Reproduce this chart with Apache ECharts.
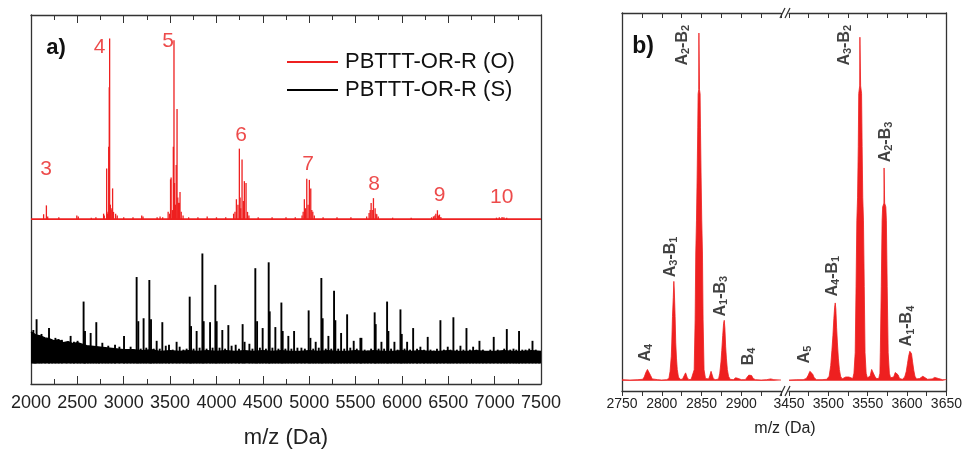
<!DOCTYPE html>
<html>
<head>
<meta charset="utf-8">
<script src="https://cdn.jsdelivr.net/npm/echarts@6/dist/echarts.min.js"></script>
<style>
  html, body { margin: 0; padding: 0; background: #fff; }
  #chart { width: 965px; height: 454px; }
</style>
</head>
<body>
<div id="chart"></div>
<script>
// ---- panel a: full spectra (m/z, intensity a.u.) ----
const redPeaks = [
  [2136, 2.7], [2166, 7.6], [2180, 1.5], [2300, 1], [2494, 2], [2510, 1.5], [2650, 0.8], [2700, 1],
  [2783, 3], [2790, 2], [2816, 28], [2825, 3], [2831, 4], [2838, 40], [2844, 73], [2848, 100],
  [2856, 8], [2864, 5], [2872, 6], [2880, 17], [2890, 4], [2913, 3], [2930, 2],
  [3000, 1], [3100, 1], [3194, 2], [3208, 1.5], [3360, 1], [3392, 1.5], [3420, 1],
  [3479, 4], [3495, 3], [3505, 22], [3511, 23], [3525, 5], [3535, 40], [3542, 99], [3548, 20],
  [3557, 8], [3566, 30], [3575, 61], [3583, 12], [3590, 9], [3600, 9], [3607, 15], [3620, 4], [3640, 2],
  [3700, 1], [3800, 1], [3900, 1.5], [4000, 1], [4100, 1],
  [4185, 3], [4200, 4], [4215, 11], [4232, 8], [4247, 39], [4255, 12], [4262, 6], [4276, 33],
  [4290, 10], [4301, 21], [4319, 20], [4335, 4], [4350, 2],
  [4450, 1], [4600, 1], [4750, 1], [4850, 1],
  [4923, 2], [4935, 4], [4948, 11], [4960, 6], [4974, 22.4], [4988, 8], [5002, 21.7], [5017, 17],
  [5028, 5], [5039, 4], [5055, 2],
  [5150, 1], [5300, 1], [5450, 1],
  [5620, 1.5], [5646, 3.4], [5658, 5], [5668, 8.9], [5680, 5], [5693, 11.6], [5711, 6], [5720, 3],
  [5729, 2.7], [5745, 1.5], [5900, 0.8], [6100, 0.8],
  [6320, 1], [6340, 1.5], [6355, 2], [6366, 3], [6383, 4.9], [6395, 2], [6405, 2.5], [6420, 1.2],
  [7020, 0.8], [7050, 1], [7080, 1.1], [7100, 1], [7130, 0.8]
];

const blackPeaks = [
  [2022, 34], [2040, 26], [2057, 45], [2085, 27], [2110, 30], [2150, 24], [2191, 36], [2225, 21],
  [2260, 26], [2295, 20], [2330, 24], [2380, 19], [2424, 28], [2460, 22], [2499, 23], [2530, 18],
  [2564, 63], [2579, 33], [2610, 17], [2640, 31], [2670, 17], [2701, 42], [2730, 16], [2766, 21],
  [2800, 15], [2830, 18], [2865, 15], [2903, 19], [2950, 17], [3000, 28], [3035, 14], [3071, 17],
  [3105, 14], [3136, 88], [3154, 43], [3180, 15], [3211, 46], [3240, 16], [3273, 85], [3291, 45],
  [3320, 15], [3352, 23], [3385, 15], [3413, 42], [3450, 18], [3485, 19], [3525, 14], [3567, 22],
  [3600, 17], [3640, 14], [3675, 15], [3708, 68], [3723, 38], [3750, 15], [3783, 33], [3815, 16],
  [3845, 112], [3859, 43], [3890, 15], [3928, 42], [3955, 16], [3985, 80], [3999, 43], [4030, 16],
  [4060, 34], [4090, 15], [4125, 39], [4160, 18], [4204, 19], [4240, 15], [4279, 40], [4300, 22],
  [4352, 20], [4385, 15], [4416, 97], [4435, 43], [4465, 16], [4495, 36], [4530, 15], [4560, 103],
  [4571, 53], [4600, 16], [4632, 37], [4665, 15], [4697, 62], [4711, 33], [4740, 15], [4772, 28],
  [4805, 15], [4834, 33], [4870, 16], [4913, 16], [4950, 15], [4991, 54], [5010, 26], [5040, 15],
  [5067, 22], [5100, 16], [5128, 87], [5142, 46], [5175, 15], [5204, 28], [5235, 15], [5265, 74],
  [5279, 44], [5310, 15], [5341, 31], [5375, 15], [5406, 50], [5440, 16], [5477, 23], [5510, 15],
  [5549, 26], [5560, 26], [5595, 14], [5628, 13], [5665, 15], [5703, 52], [5714, 40], [5745, 15],
  [5776, 22], [5805, 15], [5837, 63], [5851, 33], [5880, 15], [5916, 22], [5950, 14], [5981, 55],
  [5995, 30], [6025, 15], [6053, 22], [6085, 14], [6118, 36], [6160, 15], [6196, 17], [6235, 14],
  [6275, 27], [6305, 14], [6340, 13], [6375, 15], [6412, 44], [6450, 14], [6491, 17], [6520, 14],
  [6552, 47], [6590, 14], [6628, 18], [6660, 14], [6693, 36], [6730, 14], [6765, 17], [6800, 14],
  [6833, 23], [6870, 14], [6908, 12], [6950, 14], [6987, 27], [7030, 14], [7067, 12], [7100, 15],
  [7128, 35], [7165, 14], [7200, 15], [7230, 14], [7260, 33], [7295, 14], [7330, 14], [7370, 15],
  [7405, 23], [7440, 14], [7476, 12]
];

// noise floor of the (S) spectrum, upper edge
const noiseMz = [2000, 2050, 2100, 2150, 2200, 2250, 2300, 2350, 2400, 2450, 2500, 2600, 2700, 2800,
  2900, 3000, 3100, 3200, 3300, 3400, 3500, 3600, 3700, 3800, 3900, 4000, 4100, 4200, 4300, 4400,
  4500, 4600, 4700, 4800, 4900, 5000, 5100, 5200, 5300, 5400, 5500, 5600, 5700, 5800, 5900, 6000,
  6100, 6200, 6300, 6400, 6500, 6600, 6700, 6800, 6900, 7000, 7100, 7200, 7300, 7400, 7500];
const noiseTop = [32, 29, 28, 26, 25, 23, 24, 21, 22, 20, 21, 18, 17, 16,
  15, 14, 14, 13, 14, 12, 13, 12, 13, 12, 13, 12, 13, 12, 13, 12,
  13, 12, 13, 12, 12, 13, 12, 13, 12, 12, 13, 12, 13, 12, 12, 13,
  12, 13, 12, 12, 13, 12, 12, 13, 12, 12, 13, 12, 12, 13, 12];

// repeat-unit numbers above the (O) clusters
const clusterNames = ['3', '4', '5', '6', '7', '8', '9', '10'];
const clusterAt = [[2162, 27.4], [2739, 95], [3478, 98.4], [4265, 46.2], [4988, 30.2], [5700, 19.3], [6407, 13.2], [7076, 12.2]];

// ---- panel b: zoomed (O) spectrum ----
const zoomLeft = [
  [2750, 0.3], [2760, 0.2], [2770, 0.3], [2776, 0.4], [2778, 1.0], [2780, 2.2], [2782, 3.0], [2784, 2.6],
  [2786, 1.4], [2788, 0.5], [2795, 0.3], [2800, 0.2], [2806, 0.3], [2809, 0.6], [2810.5, 2.5], [2812, 6.5],
  [2812.6, 10], [2813.5, 17], [2814.5, 22], [2815.2, 26.3], [2815.8, 24], [2816.8, 17], [2817.6, 10],
  [2818.5, 6], [2819.5, 3], [2821, 1], [2823, 0.4], [2826, 0.4], [2828, 0.8], [2830, 2.1], [2832, 0.9],
  [2834, 0.3], [2837, 0.4], [2839, 0.6], [2840.8, 2.9], [2842, 16.1], [2842.8, 33.8], [2843.7, 42.5],
  [2844.5, 53.9], [2845.3, 67.1], [2845.75, 75.9], [2846.5, 77], [2846.75, 92], [2847.25, 92], [2847.5, 77],
  [2848.25, 75.9], [2848.7, 67.1], [2849.5, 53.9], [2850.3, 42.5], [2851.2, 33.8], [2852, 16.1],
  [2853.2, 2.9], [2855, 0.6], [2857, 0.4], [2859, 0.5], [2860.5, 1.4], [2862, 2.5], [2863.5, 1.5],
  [2865, 0.5], [2868, 0.3], [2871.5, 0.5], [2873, 2], [2874.5, 5], [2875.5, 8], [2876.7, 12], [2877.8, 15.2],
  [2878.6, 16], [2879.4, 14], [2880.4, 9], [2881.3, 6], [2882.5, 3], [2884, 1.2], [2886, 0.4], [2890, 0.3],
  [2893, 0.8], [2894.6, 1.0], [2896.5, 0.6], [2900, 0.3], [2905, 0.3], [2907.5, 0.8], [2909.5, 1.5],
  [2911, 1.8], [2913, 1.4], [2915, 0.6], [2918, 0.3], [2925, 0.2], [2932, 0.3], [2937, 0.5], [2941, 0.3],
  [2950, 0.2]
];
const zoomRight = [
  [3450, 0.2], [3460, 0.3], [3468, 0.3], [3472, 0.6], [3474.5, 1.5], [3476.5, 2.5], [3478, 2.7], [3480, 1.8],
  [3482, 0.8], [3485, 0.3], [3492, 0.3], [3498, 0.4], [3501, 1.2], [3503, 4], [3504.5, 8], [3505.8, 12],
  [3507, 16.5], [3508, 19.5], [3508.75, 20.6], [3509.5, 19], [3510.5, 14], [3511.5, 10], [3512.7, 6],
  [3514, 3], [3515.5, 1.2], [3517.5, 0.5], [3520, 0.5], [3522, 1], [3524, 1.4], [3526, 1], [3528, 0.5],
  [3531, 0.6], [3532.5, 2], [3534.1, 7.4], [3535.2, 25], [3536.2, 42.5], [3537.1, 48.4], [3538, 62],
  [3538.6, 76], [3539.8, 78], [3540.1, 90.9], [3540.6, 90.9], [3541, 78], [3542.2, 76], [3542.9, 62],
  [3543.7, 48.4], [3544.6, 42.5], [3545.6, 25], [3546.6, 7.4], [3548, 2], [3549.5, 0.8], [3551, 0.8],
  [3553, 1.2], [3555, 3], [3556, 3.4], [3557.5, 2.5], [3559, 1.2], [3561, 0.6], [3564, 0.6], [3565.5, 2],
  [3566, 7.4], [3567.25, 25], [3568.3, 42.5], [3569, 46], [3570.6, 47], [3570.8, 56.3], [3571.3, 56.3],
  [3571.5, 47], [3573, 46], [3573.7, 42.5], [3574.75, 25], [3576, 7.4], [3577.5, 2], [3579, 0.8],
  [3581, 0.6], [3583, 1], [3585, 2.2], [3586.6, 2.5], [3588.5, 1.6], [3590.5, 0.6], [3594, 0.4], [3597, 1],
  [3599, 2.5], [3600.5, 4.5], [3602, 6.5], [3603.5, 7.8], [3604.6, 8.1], [3605.6, 7.2], [3607, 5],
  [3608.5, 2.8], [3610, 1.2], [3612, 0.5], [3616, 0.6], [3618.5, 1], [3620, 1.2], [3622, 0.8], [3626, 0.4],
  [3632, 0.5], [3635, 0.9], [3637, 1.0], [3640, 0.6], [3645, 0.3], [3650, 0.3]
];

// fragment assignments [m/z, intensity, name]
const fragLeft = [[2779.6, 4.7, 'A4'], [2811, 27, 'A3-B1'], [2826, 83, 'A2-B2'], [2873.4, 16.6, 'A1-B3'], [2908.75, 3.7, 'B4']];
const fragRight = [[3470, 4.2, 'A5'], [3505, 21.9, 'A4-B1'], [3520, 83, 'A3-B2'], [3572.5, 57.4, 'A2-B3'], [3600, 8.7, 'A1-B4']];

const RED = '#ee2020';
const FRAME = '#333';
const FONT = 'Liberation Sans, Arial, sans-serif';
const HIDDEN = 'rgba(0,0,0,0)';

function frameAxis(grid, pos, min, max, interval, opts) {
  return Object.assign({
    type: 'value', gridIndex: grid, position: pos, min: min, max: max, interval: interval,
    axisLine: { show: true, onZero: false, lineStyle: { color: FRAME, width: 1.3 } },
    axisTick: { show: true, inside: true, length: 8, lineStyle: { color: FRAME } },
    minorTick: { show: true, splitNumber: 2, length: 5, lineStyle: { color: FRAME } },
    axisLabel: { show: false },
    splitLine: { show: false }
  }, opts || {});
}

function hiddenY(grid, pos, min, max) {
  return {
    type: 'value', gridIndex: grid, position: pos, min: min, max: max,
    axisLine: { show: true, lineStyle: { color: FRAME, width: 1.3 } },
    axisTick: { show: false }, axisLabel: { show: false }, splitLine: { show: false }
  };
}

const plain = v => String(v);

const fragLabel = {
  show: true, position: 'top', distance: 1, rotate: 90, align: 'left', verticalAlign: 'middle',
  color: '#111', fontSize: 16, fontWeight: 'bold', fontFamily: FONT, lineHeight: 18,
  formatter: p => p.name.replace(/(\d)/g, '{s|$1}'),
  rich: { s: { fontSize: 11, fontWeight: 'bold', fontFamily: FONT, color: '#111', verticalAlign: 'bottom', lineHeight: 16 } }
};

const chart = echarts.init(document.getElementById('chart'));

chart.setOption({
  animation: false,
  textStyle: { fontFamily: FONT },
  grid: [
    { left: 31, top: 15, width: 510, height: 376 },
    { left: 622, top: 13, width: 159, height: 378 },
    { left: 789, top: 13, width: 160, height: 378 }
  ],
  legend: {
    orient: 'vertical', left: 282, top: 46, itemWidth: 51, itemHeight: 2, itemGap: 6,
    textStyle: { fontSize: 22, color: '#111', padding: [0, 0, 0, 2] },
    data: [{ name: 'PBTTT-OR-R (O)', icon: 'rect' }, { name: 'PBTTT-OR-R (S)', icon: 'rect' }]
  },
  xAxis: [
    frameAxis(0, 'bottom', 2000, 7500, 500, {
      axisLabel: { show: true, fontSize: 18, color: '#222', margin: 10, formatter: plain },
      name: 'm/z (Da)', nameLocation: 'middle', nameGap: 43,
      nameTextStyle: { fontSize: 22, color: '#222' }
    }),
    frameAxis(0, 'top', 2000, 7500, 500),
    frameAxis(1, 'bottom', 2750, 2950, 50, {
      axisTick: { show: true, inside: false, length: 5, lineStyle: { color: FRAME } },
      axisLabel: { show: true, fontSize: 14, color: '#222', margin: 6, showMaxLabel: false, formatter: plain }
    }),
    frameAxis(1, 'top', 2750, 2950, 50, { axisTick: { show: true, inside: true, length: 5, lineStyle: { color: FRAME } } }),
    frameAxis(2, 'bottom', 3450, 3650, 50, {
      axisTick: { show: true, inside: false, length: 5, lineStyle: { color: FRAME } },
      axisLabel: { show: true, fontSize: 14, color: '#222', margin: 6, formatter: plain }
    }),
    frameAxis(2, 'top', 3450, 3650, 50, { axisTick: { show: true, inside: true, length: 5, lineStyle: { color: FRAME } } })
  ],
  yAxis: [
    hiddenY(0, 'left', -91.3, 113),
    hiddenY(0, 'right', -21, 355),
    hiddenY(1, 'left', -2.7, 97.3),
    hiddenY(2, 'right', -2.7, 97.3)
  ],
  series: [
    // (S) noise floor
    {
      type: 'line', xAxisIndex: 0, yAxisIndex: 1, symbol: 'none', silent: true,
      data: noiseMz.map((m, i) => [m, noiseTop[i]]),
      lineStyle: { color: '#000', width: 1.5 }, areaStyle: { color: '#000', opacity: 1 }
    },
    {
      name: 'PBTTT-OR-R (S)', type: 'bar', xAxisIndex: 0, yAxisIndex: 1, barWidth: 1.9, barGap: '-100%',
      data: blackPeaks, itemStyle: { color: '#000' }
    },
    // (O) baseline + sticks
    {
      type: 'line', xAxisIndex: 0, yAxisIndex: 0, symbol: 'none', silent: true,
      data: [[2000, 0], [7500, 0]], lineStyle: { color: RED, width: 1.8 }
    },
    {
      name: 'PBTTT-OR-R (O)', type: 'bar', xAxisIndex: 0, yAxisIndex: 0, barWidth: 1.3, barGap: '-100%',
      data: redPeaks, itemStyle: { color: RED }
    },
    {
      type: 'scatter', xAxisIndex: 0, yAxisIndex: 0, symbolSize: 1, itemStyle: { color: HIDDEN },
      data: clusterAt.map((p, i) => ({ value: p, name: clusterNames[i] })),
      label: { show: true, position: 'inside', formatter: '{b}', color: '#e81e1e', fontSize: 21, fontFamily: FONT }
    },
    // panel b
    {
      type: 'line', xAxisIndex: 2, yAxisIndex: 2, symbol: 'none', data: zoomLeft,
      lineStyle: { color: RED, width: 0.8 }, areaStyle: { color: RED, opacity: 1 }
    },
    {
      type: 'line', xAxisIndex: 4, yAxisIndex: 3, symbol: 'none', data: zoomRight,
      lineStyle: { color: RED, width: 0.8 }, areaStyle: { color: RED, opacity: 1 }
    },
    {
      type: 'scatter', xAxisIndex: 2, yAxisIndex: 2, symbolSize: 1, itemStyle: { color: HIDDEN },
      data: fragLeft.map(f => ({ value: [f[0], f[1]], name: f[2] })), label: fragLabel
    },
    {
      type: 'scatter', xAxisIndex: 4, yAxisIndex: 3, symbolSize: 1, itemStyle: { color: HIDDEN },
      data: fragRight.map(f => ({ value: [f[0], f[1]], name: f[2] })), label: fragLabel
    }
  ],
  graphic: [
    { type: 'text', x: 56, y: 48, style: { text: 'a)', fill: '#111', font: 'bold 22px ' + FONT, align: 'center', verticalAlign: 'middle' } },
    { type: 'text', x: 643, y: 47, style: { text: 'b)', fill: '#111', font: 'bold 23px ' + FONT, align: 'center', verticalAlign: 'middle' } },
    { type: 'text', x: 785, y: 429, style: { text: 'm/z (Da)', fill: '#222', font: '16px ' + FONT, align: 'center', verticalAlign: 'middle' } },
    // axis break marks
    { type: 'line', shape: { x1: 780, y1: 18, x2: 785, y2: 8 }, style: { stroke: FRAME, lineWidth: 1.2 } },
    { type: 'line', shape: { x1: 785, y1: 18, x2: 790, y2: 8 }, style: { stroke: FRAME, lineWidth: 1.2 } },
    { type: 'line', shape: { x1: 780, y1: 396, x2: 785, y2: 386 }, style: { stroke: FRAME, lineWidth: 1.2 } },
    { type: 'line', shape: { x1: 785, y1: 396, x2: 790, y2: 386 }, style: { stroke: FRAME, lineWidth: 1.2 } }
  ]
});
</script>
</body>
</html>
